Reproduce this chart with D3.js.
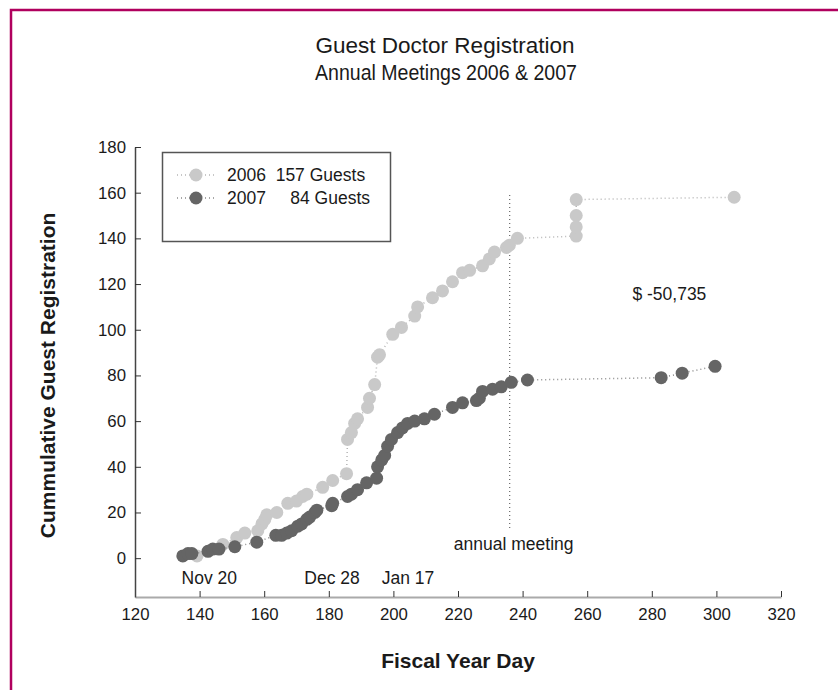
<!DOCTYPE html>
<html>
<head>
<meta charset="utf-8">
<script src="https://cdn.jsdelivr.net/npm/d3@7"></script>
<style>
  body { margin: 0; background: #fff; }
  text { font-family: "Liberation Sans", Arial, sans-serif; fill: #1a1a1a; }
  .axis text { font-size: 16.8px; }
  .title { font-size: 22.5px; }
  .label { font-size: 21px; font-weight: bold; }
  .note { font-size: 17.5px; }
</style>
</head>
<body>
<div id="vis"></div>
<script>
// Guest doctor registration, cumulative by fiscal year day

/* *************************** Data ***************************** */

var days2006 = [139.2, 147.2, 151.5, 154, 158, 159.3, 160.2, 160.8, 163.9, 167.3, 170, 171.9, 173.2,
    178.1, 181.2, 185.5, 185.8, 187, 188, 188.9, 192, 192.6, 194.2, 195.1, 195.7, 199.8, 202.5,
    206.6, 207.5, 212.1, 215.2, 218.3, 221.4, 223.6, 227.6, 229.7, 231.3, 235, 235.9, 238.4,
    256.6, 256.6, 256.6, 256.6, 305.5];
var guests2006 = [1, 6, 9, 11, 12, 15, 17, 19, 20, 24, 25, 27, 28,
    31, 34, 37, 52, 55, 59, 61, 66, 70, 76, 88, 89, 98, 101,
    106, 110, 114, 117, 121, 125, 126, 128, 131, 134, 136, 137, 140,
    141, 145, 150, 157, 158];

var days2007 = [134.8, 136.4, 137.6, 142.6, 144.1, 146, 150.9, 157.7, 163.6, 165.4, 167, 168.5,
    170.4, 171.6, 173.2, 174.1, 175.7, 176.3, 180.9, 181.2, 185.8, 187, 188.9, 191.7, 194.8,
    195.1, 196.4, 197.3, 198.2, 199.4, 201.3, 202.8, 204.4, 206.6, 209.6, 212.7, 218.3, 221.4,
    225.7, 226.6, 227.6, 230.7, 233.4, 236.5, 241.5, 282.9, 289.4, 299.6];
var guests2007 = [1, 2, 2, 3, 4, 4, 5, 7, 10, 10, 11, 12,
    14, 15, 17, 18, 20, 21, 23, 24, 27, 28, 30, 33, 35,
    40, 43, 45, 49, 52, 55, 57, 59, 60, 61, 63, 66, 68,
    69, 70, 73, 74, 75, 77, 78, 79, 81, 84];

var seriesNames = ['2006  157 Guests', '2007     84 Guests'];
var xTicks = [120, 140, 160, 180, 200, 220, 240, 260, 280, 300, 320];
var yTicks = [0, 20, 40, 60, 80, 100, 120, 140, 160, 180];

// date markers under the curves: [label, day, value]
var dateLabels = [['Nov 20', 143, -8.5], ['Dec 28', 181, -8.5], ['Jan 17', 204.5, -8.5]];
var meetingDay = 236;

/* *************************** Settings ***************************** */

var width = 838;
var height = 690;
var margin = { left: 135, right: 57, top: 147, bottom: 93 };
var drawWidth = width - margin.left - margin.right;
var drawHeight = height - margin.top - margin.bottom;

var light = '#c9c9c9';
var dark = '#656565';

var svg = d3.select('#vis')
    .append('svg')
    .attr('width', width)
    .attr('height', height);

// frame round the picture
svg.append('path')
    .attr('d', 'M11,' + height + 'V10H' + width)
    .attr('fill', 'none')
    .attr('stroke', '#b0005e')
    .attr('stroke-width', 2.5);

var g = svg.append('g')
    .attr('transform', 'translate(' + margin.left + ',' + margin.top + ')');

var xScale = d3.scaleLinear().domain([120, 320]).range([0, drawWidth]);
var yScale = d3.scaleLinear().domain([-17, 180]).range([drawHeight, 0]);

/* *************************** Axes ***************************** */

var xAxis = d3.axisBottom(xScale).tickValues(xTicks).tickSizeInner(-6).tickSizeOuter(0).tickPadding(11);
var yAxis = d3.axisLeft(yScale).tickValues(yTicks).tickSizeInner(-6).tickSizeOuter(0).tickPadding(9);

var xAxisG = g.append('g')
    .attr('class', 'axis')
    .attr('transform', 'translate(0,' + drawHeight + ')')
    .call(xAxis);
xAxisG.select('.domain').attr('stroke', '#aaa').attr('stroke-width', 2);
xAxisG.selectAll('.tick line').attr('stroke', '#333');

var yAxisG = g.append('g')
    .attr('class', 'axis')
    .call(yAxis);
yAxisG.select('.domain').attr('stroke', '#444').attr('stroke-width', 1.5);
yAxisG.selectAll('.tick line').attr('stroke', '#333');

/* *************************** Titles ***************************** */

svg.append('text').attr('class', 'title')
    .attr('x', 445).attr('y', 53).attr('text-anchor', 'middle')
    .text('Guest Doctor Registration');
svg.append('text').attr('class', 'title')
    .attr('x', 446).attr('y', 80).attr('text-anchor', 'middle')
    .attr('textLength', 262).attr('lengthAdjust', 'spacingAndGlyphs')
    .text('Annual Meetings 2006 & 2007');

svg.append('text').attr('class', 'label')
    .attr('text-anchor', 'middle')
    .attr('transform', 'translate(55,' + (margin.top + yScale(80)) + ') rotate(-90)')
    .text('Cummulative Guest Registration');

svg.append('text').attr('class', 'label')
    .attr('x', margin.left + xScale(220)).attr('y', 668)
    .attr('text-anchor', 'middle')
    .text('Fiscal Year Day');

/* *************************** Annotations ***************************** */

g.append('line')
    .attr('x1', xScale(meetingDay)).attr('x2', xScale(meetingDay))
    .attr('y1', yScale(159)).attr('y2', yScale(12))
    .attr('stroke', '#666').attr('stroke-width', 1.2)
    .attr('stroke-dasharray', '1,3');

g.append('text').attr('class', 'note')
    .attr('x', xScale(meetingDay) + 4).attr('y', yScale(3.6))
    .attr('text-anchor', 'middle')
    .text('annual meeting');

g.append('text').attr('class', 'note')
    .attr('x', xScale(274)).attr('y', yScale(113))
    .text('$ -50,735');

g.selectAll('.date-label')
    .data(dateLabels)
    .enter().append('text')
    .attr('class', 'date-label note')
    .attr('x', function(d) { return xScale(d[1]); })
    .attr('y', function(d) { return yScale(d[2]); })
    .attr('dy', '0.35em')
    .attr('text-anchor', 'middle')
    .text(function(d) { return d[0]; });

/* *************************** Series ***************************** */

var line = d3.line()
    .x(function(d) { return xScale(d[0]); })
    .y(function(d) { return yScale(d[1]); });

var drawSeries = function(days, guests, color, lineColor) {
    var data = days.map(function(d, i) { return [d, guests[i]]; });
    g.append('path')
        .datum(data)
        .attr('d', line)
        .attr('fill', 'none')
        .attr('stroke', lineColor)
        .attr('stroke-width', 1.5)
        .attr('stroke-dasharray', '1,3');
    g.append('g').selectAll('circle')
        .data(data)
        .enter().append('circle')
        .attr('cx', function(d) { return xScale(d[0]); })
        .attr('cy', function(d) { return yScale(d[1]); })
        .attr('r', 6.5)
        .attr('fill', color);
};

drawSeries(days2006, guests2006, light, '#b5b5b5');
drawSeries(days2007, guests2007, dark, '#8a8a8a');

/* *************************** Legend ***************************** */

var legend = svg.append('g');
legend.append('rect')
    .attr('x', 162.5).attr('y', 152.5)
    .attr('width', 228).attr('height', 89)
    .attr('fill', '#fff')
    .attr('stroke', '#555').attr('stroke-width', 1.5);

var legendRows = legend.selectAll('.row')
    .data(seriesNames)
    .enter().append('g')
    .attr('class', 'row')
    .attr('transform', function(d, i) { return 'translate(0,' + (175 + i * 23) + ')'; });

legendRows.append('line')
    .attr('x1', 177).attr('x2', 216)
    .attr('stroke', function(d, i) { return i ? '#8a8a8a' : '#b5b5b5'; })
    .attr('stroke-width', 1.5)
    .attr('stroke-dasharray', '1,3');
legendRows.append('circle')
    .attr('cx', 196).attr('r', 6.5)
    .attr('fill', function(d, i) { return i ? dark : light; });
legendRows.append('text')
    .attr('x', 227).attr('dy', '0.35em')
    .style('font-size', '17.5px')
    .style('white-space', 'pre')
    .text(function(d) { return d; });
</script>
</body>
</html>
